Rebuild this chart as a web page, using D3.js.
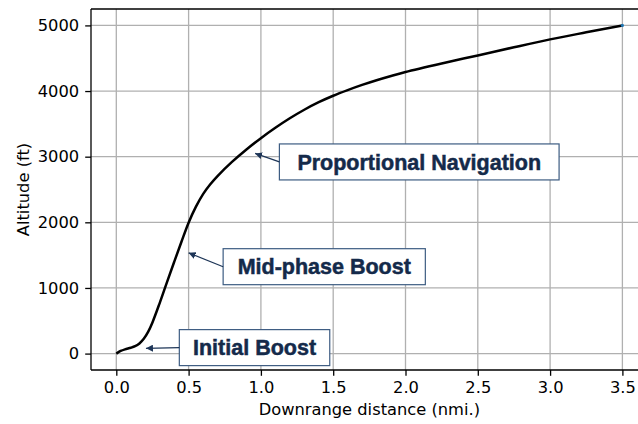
<!DOCTYPE html>
<html>
<head>
<meta charset="utf-8">
<script src="https://cdn.jsdelivr.net/npm/d3@7"></script>
<style>
  html, body { margin: 0; padding: 0; background: #fff; }
  svg { display: block; }
</style>
</head>
<body>
<svg id="chart" width="638" height="424"></svg>
<script>
// ---- data ----
const downrange = [0, 0.03, 0.06, 0.1, 0.13, 0.16, 0.19, 0.22, 0.25, 0.3, 0.35, 0.4, 0.45, 0.5, 0.55, 0.6, 0.65, 0.7, 0.8, 0.9, 1.0, 1.1, 1.2, 1.3, 1.4, 1.5, 1.6, 1.7, 1.8, 1.9, 2.0, 2.25, 2.5, 2.75, 3.0, 3.25, 3.5];
const altitude  = [0, 40, 65, 88, 112, 155, 225, 330, 475, 770, 1085, 1395, 1700, 1995, 2235, 2430, 2580, 2705, 2920, 3110, 3282, 3440, 3585, 3715, 3830, 3928, 4014, 4093, 4165, 4230, 4290, 4420, 4543, 4667, 4787, 4895, 5000];
const xTicks = [0, 0.5, 1.0, 1.5, 2.0, 2.5, 3.0, 3.5];
const yTicks = [0, 1000, 2000, 3000, 4000, 5000];
const annLabels = ["Proportional Navigation", "Mid-phase Boost", "Initial Boost"];
const annTargetX = [0.96, 0.5, 0.205];
const annTargetY = [3050, 1535, 80];
const annTextX = [2.095, 1.438, 0.956];
const annTextY = [2920, 1324, 91];

(function () {
// ---- layout ----
const svg = d3.select("#chart");
const L = 91, T = 9, B = 370, R = 647.7;
const x = d3.scaleLinear().domain([-0.175, 3.675]).range([L, R]);
const y = d3.scaleLinear().domain([-250, 5250]).range([B, T]);
const tickFont = "'DejaVu Sans', sans-serif";
const fs = 16.3;

// grid
const grid = svg.append("g");
grid.selectAll("line.gx").data(xTicks).enter().append("line")
  .attr("x1", d => x(d)).attr("x2", d => x(d)).attr("y1", T).attr("y2", B)
  .attr("stroke", "#b0b0b0").attr("stroke-width", 1.3);
grid.selectAll("line.gy").data(yTicks).enter().append("line")
  .attr("x1", L).attr("x2", R).attr("y1", d => y(d)).attr("y2", d => y(d))
  .attr("stroke", "#b0b0b0").attr("stroke-width", 1.3);

// curve
const pts = downrange.map((d, i) => [d, altitude[i]]);
const line = d3.line().x(d => x(d[0])).y(d => y(d[1])).curve(d3.curveCatmullRom.alpha(0.5));
svg.append("path").datum(pts).attr("d", line)
  .attr("fill", "none").attr("stroke", "#000").attr("stroke-width", 2.5)
  .attr("stroke-linejoin", "round").attr("stroke-linecap", "butt");
const last = pts[pts.length - 1];
svg.append("circle").attr("cx", x(last[0])).attr("cy", y(last[1])).attr("r", 1.6).attr("fill", "#1f77b4");

// axes
const xAxis = d3.axisBottom(x).tickValues(xTicks).tickFormat(d3.format(".1f")).tickSize(5.8).tickPadding(6);
const yAxis = d3.axisLeft(y).tickValues(yTicks).tickFormat(d3.format("d")).tickSize(5.8).tickPadding(6);
const gx = svg.append("g").attr("transform", `translate(0,${B})`).call(xAxis);
const gy = svg.append("g").attr("transform", `translate(${L},0)`).call(yAxis);
[gx, gy].forEach(g => {
  g.select(".domain").remove();
  g.selectAll(".tick line").attr("stroke", "#000").attr("stroke-width", 1.3);
  g.selectAll(".tick text").attr("fill", "#000").style("font-family", tickFont).style("font-size", fs + "px");
});

// spines
const spine = (x1, y1, x2, y2) => svg.append("line").attr("x1", x1).attr("y1", y1).attr("x2", x2).attr("y2", y2)
  .attr("stroke", "#000").attr("stroke-width", 1.3);
spine(L, T, L, B); spine(L, B, R, B); spine(L, T, R, T); spine(R, T, R, B);

// axis labels
svg.append("text").attr("x", (L + R) / 2).attr("y", 415)
  .attr("text-anchor", "middle").style("font-family", tickFont).style("font-size", fs + "px")
  .text("Downrange distance (nmi.)");
svg.append("text").attr("transform", `translate(29,${(T + B) / 2}) rotate(-90)`)
  .attr("text-anchor", "middle").style("font-family", tickFont).style("font-size", fs + "px")
  .text("Altitude (ft)");

// annotations
const defs = svg.append("defs");
defs.append("marker").attr("id", "arr").attr("viewBox", "0 0 10 10").attr("refX", 10).attr("refY", 5)
  .attr("markerWidth", 7).attr("markerHeight", 7).attr("markerUnits", "userSpaceOnUse").attr("orient", "auto")
  .append("path").attr("d", "M0,0 L10,5 L0,10 z").attr("fill", "#1d3557");

const annFont = "'Liberation Sans', Arial, sans-serif";
const annFs = 21.5;
const padX = [18, 14.5, 13.7];
const boxH = 36;
annLabels.forEach((lab, i) => {
  const cx = x(annTextX[i]), cy = y(annTextY[i]);
  const g = svg.append("g");
  const t = g.append("text").attr("x", cx).attr("y", cy + 0.358 * annFs)
    .attr("text-anchor", "middle").style("font-family", annFont).style("font-weight", "bold")
    .style("font-size", annFs + "px").attr("fill", "#142a4a")
    .attr("stroke", "#142a4a").attr("stroke-width", 0.5).text(lab);
  const w = t.node().getComputedTextLength() + 2 * padX[i];
  g.insert("rect", "text").attr("x", cx - w / 2).attr("y", cy - boxH / 2).attr("width", w).attr("height", boxH)
    .attr("fill", "#fff").attr("stroke", "#3d5c82").attr("stroke-width", 1.2);
  svg.append("line").attr("x1", cx - w / 2).attr("y1", cy)
    .attr("x2", x(annTargetX[i])).attr("y2", y(annTargetY[i]))
    .attr("stroke", "#1d3557").attr("stroke-width", 1.2).attr("marker-end", "url(#arr)");
});
})();
</script>
</body>
</html>
